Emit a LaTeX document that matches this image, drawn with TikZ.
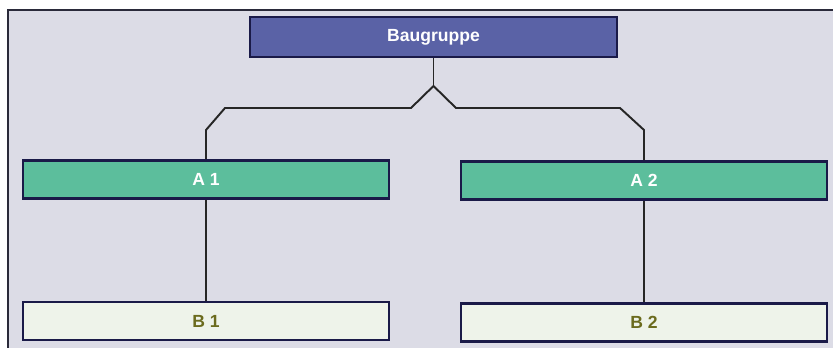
\documentclass[tikz,border=0pt]{standalone}
\usepackage{fontspec}
\setmainfont{Liberation Sans}
\usepackage{tikz}
\usetikzlibrary{positioning,calc}

\definecolor{bgcol}{HTML}{DCDCE6}
\definecolor{framecol}{HTML}{2A2A3A}
\definecolor{edgecol}{HTML}{1A1A48}
\definecolor{topcol}{HTML}{5A62A6}
\definecolor{acol}{HTML}{5CBE9C}
\definecolor{bcol}{HTML}{EEF3EA}
\definecolor{btext}{HTML}{6B6B1E}

\begin{document}
\begin{tikzpicture}[x=0.02cm,y=-0.02cm,
  box/.style={rectangle,draw=edgecol,line width=1.6pt,minimum width=7.32cm,minimum height=0.76cm,
    font=\fontsize{10}{12}\selectfont\bfseries,inner sep=0pt},
  topbox/.style={box,fill=topcol,text=white,minimum width=7.34cm,minimum height=0.8cm},
  abox/.style={box,fill=acol,text=white},
  bbox/.style={box,fill=bcol,text=btext},
  link/.style={line width=1.1pt,draw=black!85}]
\useasboundingbox (0,0) rectangle (833,348);
\fill[bgcol] (8,10) rectangle (833,348);
\draw[framecol,line width=1pt] (8,348) -- (8,10) -- (833,10);

\node[topbox] (top) at (433.5,37) {Baugruppe};
\node[abox] (a1) at (206,179.5) {A 1};
\node[abox] (a2) at (644,180.5) {A 2};
\node[bbox] (b1) at (206,321) {B 1};
\node[bbox] (b2) at (644,322.5) {B 2};

\coordinate (fork) at (433.5,86);
\draw[link] (top.south) -- (fork);
\draw[link] (fork) -- (411,108) -- (225,108) -- (206,130) -- (a1.north);
\draw[link] (fork) -- (456,108) -- (620,108) -- (644,130) -- (a2.north);
\draw[link] (a1) -- (b1);
\draw[link] (a2) -- (b2);
\end{tikzpicture}
\end{document}
